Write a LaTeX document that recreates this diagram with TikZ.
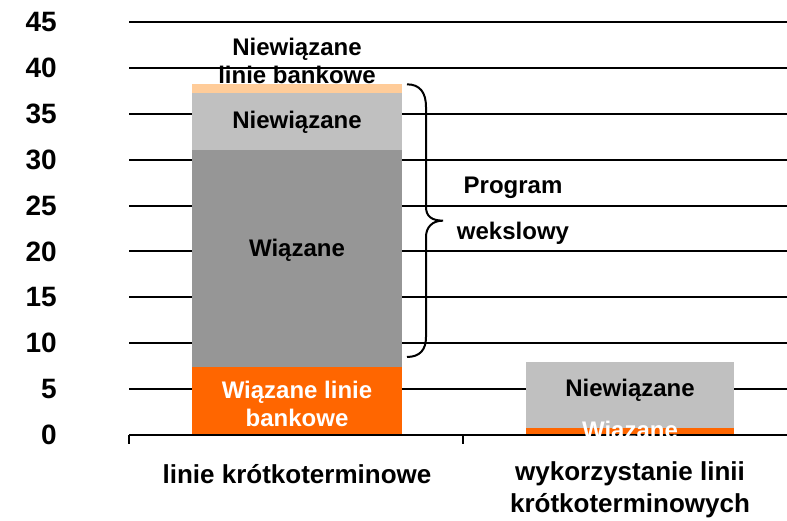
\documentclass[tikz,border=0pt]{standalone}
\usepackage{fontspec}
\setmainfont{Liberation Sans}
\usetikzlibrary{calc}

\definecolor{barorange}{HTML}{FF6600}
\definecolor{bardark}{HTML}{969696}
\definecolor{barlight}{HTML}{C0C0C0}
\definecolor{barpeach}{HTML}{FFCC99}

\begin{document}
\begin{tikzpicture}
      [x = 1pt, y = 9.18pt,
      grid/.style = {
         draw = black,
         line width = 2pt
      },
      ylabel/.style = {
         anchor = east,
         inner sep = 0pt,
         font = \fontsize{28}{34}\selectfont\bfseries
      },
      inbar/.style = {
         align = center,
         inner sep = 0pt,
         font = \fontsize{24}{28}\selectfont\bfseries
      },
      catlabel/.style = {
         align = center,
         inner sep = 0pt,
         font = \fontsize{26}{32}\selectfont\bfseries
      }]

      \useasboundingbox (0, -9.259) rectangle (787, 47.386);

      % grid lines and value labels
      \foreach \v in {5, 10, ..., 45} {
         \draw[grid] (129, \v) -- (787, \v);
      }
      \foreach \v in {0, 5, ..., 45} {
         \node[ylabel] (y\v) at (57, \v) {\v};
      }

      % first bar: linie krotkoterminowe
      \fill[barorange] (192, 0) rectangle (402, 7.4);
      \fill[bardark] (192, 7.4) rectangle (402, 31.0);
      \fill[barlight] (192, 31.0) rectangle (402, 37.3);
      \fill[barpeach] (192, 37.3) rectangle (402, 38.2);

      % second bar: wykorzystanie
      \fill[barorange] (526, 0) rectangle (734, 0.8);
      \fill[barlight] (526, 0.8) rectangle (734, 7.9);

      % category axis
      \draw[grid] (129, 0) -- (787, 0);
      \foreach \x in {129, 463} {
         \draw[line width = 2pt] (\x, 0) -- (\x, -0.98);
      }

      % labels inside and above the bars
      \node[inbar] (nbank) at (297, 40.74) {Niewiązane\\linie bankowe};
      \node[inbar] (nwiaz1) at (297, 34.1) {Niewiązane};
      \node[inbar] (wiaz1) at (297, 20.15) {Wiązane};
      \node[inbar, text = white] (wbank) at (297, 3.38) {Wiązane linie\\bankowe};
      \node[inbar] (nwiaz2) at (630, 4.9) {Niewiązane};
      \node[inbar, text = white] (wiaz2) at (630, 0.33) {Wiązane};

      % brace for program wekslowy
      \draw[line width = 2pt]
         (407, 38.2) .. controls (420, 38.2) and (426, 37.3) .. (426, 35.73)
         -- (426, 24.84) .. controls (426, 23.8) and (432, 23.35) .. (443, 23.35)
         .. controls (432, 23.35) and (426, 22.6) .. (426, 21.57)
         -- (426, 10.68) .. controls (426, 9.3) and (420, 8.5) .. (407, 8.5);
      \node[inbar] (prog) at (513, 26.9) {Program};
      \node[inbar] (weks) at (513, 22.0) {wekslowy};

      % category labels
      \node[catlabel] (cat1) at (297, -4.25) {linie krótkoterminowe};
      \node[catlabel] (cat2) at (630, -5.99) {wykorzystanie linii\\krótkoterminowych};

   \end{tikzpicture}
\end{document}
